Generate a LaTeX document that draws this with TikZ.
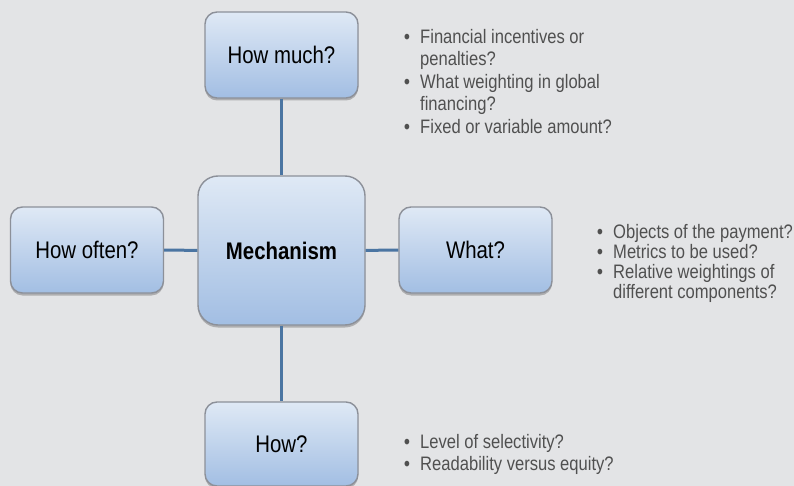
\documentclass[tikz,border=0pt]{standalone}
\usepackage{fontspec}
\setmainfont[FakeStretch=0.85]{Liberation Sans}
\usetikzlibrary{shadows}
\definecolor{bg}{HTML}{E3E4E6}
\definecolor{boxtop}{HTML}{DFE9F5}
\definecolor{boxbot}{HTML}{A2BEE3}
\definecolor{boxline}{HTML}{8C9099}
\definecolor{conncol}{HTML}{4B75A2}
\definecolor{listcol}{HTML}{505050}
\newcommand{\bl}{\makebox[16pt][l]{\textcolor{listcol}{\bfseries •}}}
\newcommand{\ind}{\hspace*{16pt}}
\tikzset{
  box/.style={rectangle, rounded corners=12pt, draw=boxline, line width=1.4pt,
    top color=boxtop, bottom color=boxbot, inner sep=0pt,
    minimum width=153pt, minimum height=86pt,
    font=\fontsize{24}{28}\selectfont,
    drop shadow={opacity=0.35, shadow xshift=0pt, shadow yshift=-2.5pt, fill=black!70}},
  bigbox/.style={box, rounded corners=20pt, minimum width=167pt, minimum height=149pt,
    font=\fontsize{24}{28}\selectfont\bfseries},
  conn/.style={draw=conncol, line width=3pt},
  blist/.style={anchor=north west, align=left, inner sep=0pt, text=listcol,
    font=\fontsize{19.5}{22.5}\selectfont},
}
\begin{document}
\begin{tikzpicture}[x=1pt,y=-1pt]
\fill[bg] (0,0) rectangle (794,486);
\useasboundingbox (0,0) rectangle (794,486);
\node[box] (much) at (281.5,55) {How much?};
\node[bigbox] (mech) at (281.5,250.5) {Mechanism};
\node[box] (often) at (87,250) {How often?};
\node[box] (what) at (475.5,250) {What?};
\node[box, minimum height=84pt] (how) at (281.5,444) {How?};
\draw[conn] (much) -- (mech);
\draw[conn] (often) -- (mech);
\draw[conn] (mech) -- (what);
\draw[conn] (mech) -- (how);
\node[blist] (l1) at (404,29) {\bl Financial incentives or\\ \ind penalties?\\ \bl What weighting in global\\ \ind financing?\\ \bl Fixed or variable amount?};
\node[blist, font=\fontsize{19.5}{20}\selectfont] (l2) at (597,224) {\bl Objects of the payment?\\ \bl Metrics to be used?\\ \bl Relative weightings of\\ \ind different components?};
\node[blist] (l3) at (404,434) {\bl Level of selectivity?\\ \bl Readability versus equity?};
\end{tikzpicture}
\end{document}
